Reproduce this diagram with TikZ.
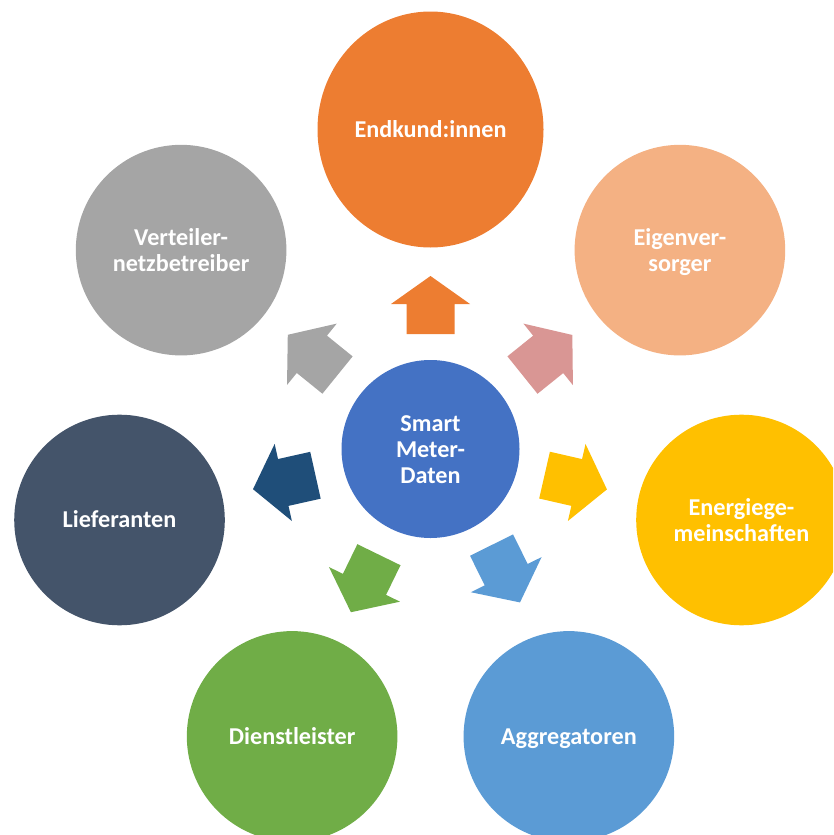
\documentclass[tikz,border=0pt]{standalone}
\usepackage{fontspec}
\setmainfont{Carlito}
\usetikzlibrary{calc,shapes.geometric}
\definecolor{cOrange}{HTML}{ED7D31}
\definecolor{cPeach}{HTML}{F4B183}
\definecolor{cYellow}{HTML}{FFC000}
\definecolor{cBlue}{HTML}{5B9BD5}
\definecolor{cGreen}{HTML}{70AD47}
\definecolor{cSlate}{HTML}{44546A}
\definecolor{cGray}{HTML}{A5A5A5}
\definecolor{cCenter}{HTML}{4472C4}
\definecolor{cPink}{HTML}{D99694}
\definecolor{cNavy}{HTML}{1F4E79}
\newcommand{\mystrut}{\vrule width 0pt height 21pt depth 5pt\relax}
\tikzset{
  lbl/.style={text=white, align=center, font=\fontsize{24.2}{26}\selectfont\bfseries, inner sep=0pt},
  outer/.style={circle, lbl, minimum size=210.6pt},
}
% color, position angle, position distance, rotation, length, head length
\newcommand{\blockarrow}[6]{%
  \fill[#1, shift={($(c)+(#2:#3)$)}, rotate=#4]
    ({-#5/2},-24) -- ({#5/2-#6},-24) -- ({#5/2-#6},-39.5) -- ({#5/2},0)
    -- ({#5/2-#6},39.5) -- ({#5/2-#6},24) -- ({-#5/2},24) -- cycle;}
\begin{document}
\begin{tikzpicture}[x=1pt,y=1pt]
\useasboundingbox (0,0) rectangle (833,-835);
\clip (0,0) rectangle (833,-835);
\coordinate (c) at (430.5,-449);
\node[circle, lbl, fill=cCenter, minimum size=178pt] (center) at (c) {\mystrut Smart\\\mystrut Meter-\\\mystrut Daten};
\node[ellipse, lbl, fill=cOrange, minimum width=226pt, minimum height=236pt] (endkund) at ($(c)+(90:319.5)$) {\mystrut Endkund:innen};
\node[outer, fill=cPeach] (eigen) at ($(c)+(38.57:319)$) {\mystrut Eigenver-\\\mystrut sorger};
\node[outer, fill=cYellow] (energie) at ($(c)+(-12.86:319)$) {\mystrut Energiege-\\\mystrut meinschaften};
\node[outer, fill=cBlue] (aggr) at ($(c)+(-64.29:319)$) {\mystrut Aggregatoren};
\node[outer, fill=cGreen] (dienst) at ($(c)+(-115.71:319)$) {\mystrut Dienstleister};
\node[outer, fill=cSlate] (liefer) at ($(c)+(-167.14:319)$) {\mystrut Lieferanten};
\node[outer, fill=cGray] (verteil) at ($(c)+(141.43:319)$) {\mystrut Verteiler-\\\mystrut netzbetreiber};
\blockarrow{cOrange}{90}{144}{90}{58}{28}
\blockarrow{cPink}{38.8}{150}{38.8}{64}{31}
\blockarrow{cYellow}{-12.9}{149}{-12.9}{64}{31}
\blockarrow{cBlue}{-58.9}{145.7}{-63.6}{64}{31}
\blockarrow{cGreen}{-116}{149.6}{-116}{64}{31}
\blockarrow{cNavy}{-167.2}{150}{-167.4}{64}{31}
\blockarrow{cGray}{141.4}{150.8}{141}{64}{31}
\end{tikzpicture}
\end{document}
